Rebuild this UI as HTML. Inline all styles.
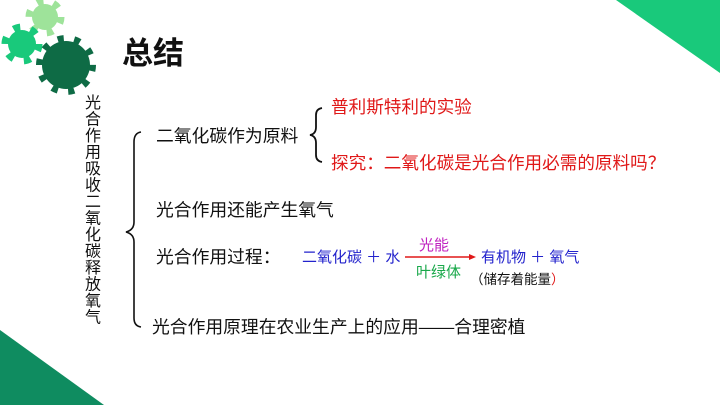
<!DOCTYPE html>
<html><head><meta charset="utf-8"><style>
body{margin:0;width:720px;height:405px;overflow:hidden;background:#fff}
text{font-family:"Liberation Sans","Noto Sans CJK SC",sans-serif}
</style></head><body>
<svg width="720" height="405" viewBox="0 0 720 405" xmlns="http://www.w3.org/2000/svg">
<polygon points="616,0 720,0 720,73" fill="#19c97b"/>
<polygon points="0,330 0,405 104,405" fill="#0f8c60"/>
<circle cx="45" cy="17" r="13" fill="#9ee39a"/>
<circle cx="45" cy="17" r="16" fill="none" stroke="#9ee39a" stroke-width="7" stroke-dasharray="6.5 10.3"/>
<circle cx="22" cy="44" r="14" fill="#19c97b"/>
<circle cx="22" cy="44" r="17" fill="none" stroke="#19c97b" stroke-width="7" stroke-dasharray="7 10.8"/>
<circle cx="66" cy="65" r="24" fill="#0e6b45"/>
<circle cx="66" cy="65" r="26" fill="none" stroke="#0e6b45" stroke-width="8" stroke-dasharray="6 10.3"/>
<text x="122" y="64" font-size="31" font-weight="bold" fill="#111">总结</text>
<g font-size="16" fill="#111" text-anchor="middle">
<text x="93" y="108">光</text><text x="93" y="124.5">合</text><text x="93" y="141">作</text><text x="93" y="157.5">用</text><text x="93" y="174">吸</text><text x="93" y="190.5">收</text><text x="93" y="207">二</text><text x="93" y="223.5">氧</text><text x="93" y="240">化</text><text x="93" y="256.5">碳</text><text x="93" y="273">释</text><text x="93" y="289.5">放</text><text x="93" y="306">氧</text><text x="93" y="322.5">气</text>
</g>
<path d="M141,132 Q134,133 134,142 L134,222 Q134,230 126,232 Q134,234 134,242 L134,318 Q134,326 141,327" fill="none" stroke="#111" stroke-width="1.6"/>
<path d="M322,108 Q316,109 316,115 L316,127 Q316,134 310,135 Q316,136 316,143 L316,155 Q316,161 322,162" fill="none" stroke="#111" stroke-width="1.8"/>
<g font-size="17.8" fill="#111">
<text x="156" y="142">二氧化碳作为原料</text>
<text x="156" y="216">光合作用还能产生氧气</text>
<text x="156" y="263">光合作用过程：</text>
<text x="152" y="333">光合作用原理在农业生产上的应用——合理密植</text>
</g>
<g font-size="17.6" fill="#e01818">
<text x="331" y="113">普利斯特利的实验</text>
<text x="331" y="169">探究：二氧化碳是光合作用必需的原料吗？</text>
</g>
<g font-size="15" fill="#2222cc">
<text x="302" y="262">二氧化碳 ＋ 水</text>
<text x="481" y="262">有机物 ＋ 氧气</text>
</g>
<line x1="405" y1="257" x2="472" y2="257" stroke="#e01818" stroke-width="1.5"/>
<polygon points="476,257 469,254 469,260" fill="#e01818"/>
<text x="419" y="250" font-size="15" fill="#c020c0">光能</text>
<text x="416" y="277" font-size="15" fill="#19a84a">叶绿体</text>
<text x="470" y="284" font-size="13.5" fill="#111">（储存着能量<tspan fill="#e01818">）</tspan></text>
</svg>
</body></html>
